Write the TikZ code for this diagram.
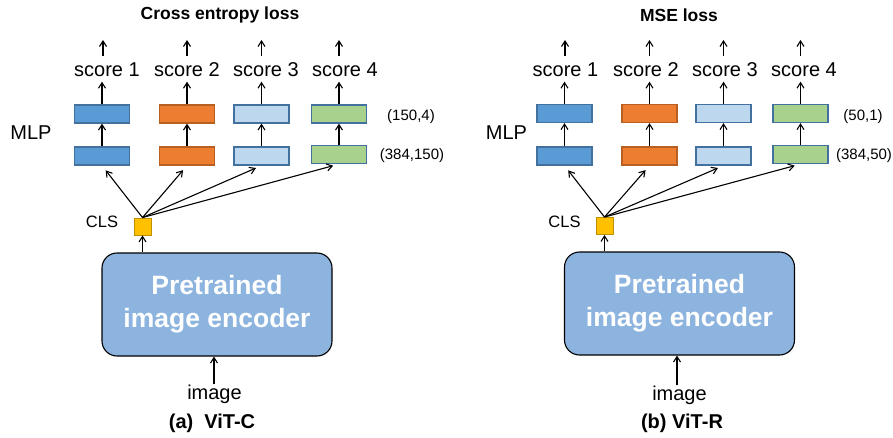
\documentclass[tikz,border=0pt]{standalone}
\usepackage{fontspec}
\setmainfont{Liberation Sans}
\usetikzlibrary{arrows.meta}
\definecolor{bluef}{HTML}{5B9BD5}
\definecolor{blued}{HTML}{41719C}
\definecolor{orangef}{HTML}{ED7D31}
\definecolor{oranged}{HTML}{B85F22}
\definecolor{lbluef}{HTML}{BDD7EE}
\definecolor{greenf}{HTML}{A9D18E}
\definecolor{clsf}{HTML}{FFC000}
\definecolor{clsd}{HTML}{BF9000}
\definecolor{encf}{HTML}{8CB4DF}
\tikzset{
  lay/.style={draw=blued, line width=1.2pt, minimum width=55pt, minimum height=18pt, inner sep=0pt},
  lb/.style={lay, fill=bluef},
  lo/.style={lay, fill=orangef, draw=oranged},
  ll/.style={lay, fill=lbluef},
  lg/.style={lay, fill=greenf},
  sc/.style={font=\fontsize{20}{24}\selectfont, inner sep=0pt, minimum height=25pt, text height=14.3pt, text depth=0pt},
  ttl/.style={font=\fontsize{17.5}{20}\selectfont\bfseries, inner sep=0pt},
  capt/.style={font=\fontsize{20}{24}\selectfont\bfseries, inner sep=0pt},
  dim/.style={font=\fontsize{15}{18}\selectfont, inner sep=0pt},
  big/.style={font=\fontsize{20}{24}\selectfont, inner sep=0pt},
  clsbox/.style={draw=clsd, fill=clsf, line width=0.9pt, minimum size=17pt, inner sep=0pt},
  enc/.style={draw=black, fill=encf, line width=1.1pt, rounded corners=15pt, minimum width=230pt, minimum height=103pt, text=white, align=center, font=\fontsize{26.5}{33}\selectfont\bfseries},
  arr/.style={-{Straight Barb[length=5.5pt,width=7pt]}, line width=1.1pt},
}
\begin{document}
\begin{tikzpicture}[x=1pt, y=-1pt]
\useasboundingbox (0,0) rectangle (893,438);
% ---------------- left panel ----------------
\node[ttl] (t1) at (220,15) {Cross entropy loss};
\node[big] (mlp1) at (31,133) {MLP};
\node[dim] (d1a) at (411,117) {(150,4)};
\node[dim] (d1b) at (412,156) {(384,150)};
\node[lb] (a1t) at (102,114) {};
\node[lo] (a2t) at (187,114) {};
\node[ll] (a3t) at (261.5,114) {};
\node[lg] (a4t) at (339,114) {};
\node[lb] (a1b) at (102,156) {};
\node[lo] (a2b) at (187,156) {};
\node[ll] (a3b) at (261.5,156) {};
\node[lg] (a4b) at (339,154.5) {};
\node[sc] (as1) at (107,69) {score 1};
\node[sc] (as2) at (187,69) {score 2};
\node[sc] (as3) at (266,69) {score 3};
\node[sc] (as4) at (345,69) {score 4};
\coordinate (ao1) at (103,40);
\coordinate (ao2) at (187,40);
\coordinate (ao3) at (261.5,40);
\coordinate (ao4) at (339,40);
\foreach \i in {1,2,3,4}{
  \draw[arr] (a\i b.north) -- (a\i t.south);
  \draw[arr] (a\i t.north) -- (a\i t.north |- as\i.south);
  \draw[arr] (ao\i |- as\i.north) -- (ao\i);
}
\node[clsbox] (cls1) at (142.5,226.5) {};
\node[big, font=\fontsize{16.5}{20}\selectfont] (cl1) at (102,222) {CLS};
\foreach \i in {1,2,3,4}{
  \draw[arr, shorten >=6pt] (cls1.north) -- (a\i b.south);
}
\node[enc] (enc1) at (217,304.5) {Pretrained\\image encoder};
\draw[arr] (cls1.south |- enc1.north) -- (cls1.south);
\node[big] (img1) at (214.5,394) {image};
\draw[arr] ([xshift=-0.5pt]img1.north) -- ([xshift=-0.5pt]img1.north |- enc1.south);
\node[capt] (cap1) at (212,423) {(a)\ \ ViT-C};
% ---------------- right panel ----------------
\node[ttl] (t2) at (679,15) {MSE loss};
\node[big] (mlp2) at (506.5,133) {MLP};
\node[dim] (d2a) at (863,117) {(50,1)};
\node[dim] (d2b) at (864,156) {(384,50)};
\node[lb] (b1t) at (564.5,113.5) {};
\node[lo] (b2t) at (649.5,113.5) {};
\node[ll] (b3t) at (723.5,113.5) {};
\node[lg] (b4t) at (800.5,113.5) {};
\node[lb] (b1b) at (564.5,156) {};
\node[lo] (b2b) at (649.5,156) {};
\node[ll] (b3b) at (723.5,156) {};
\node[lg] (b4b) at (800.5,154.5) {};
\node[sc] (bs1) at (565.5,69) {score 1};
\node[sc] (bs2) at (646,69) {score 2};
\node[sc] (bs3) at (725,69) {score 3};
\node[sc] (bs4) at (804,69) {score 4};
\coordinate (bo1) at (565,40);
\coordinate (bo2) at (649.5,40);
\coordinate (bo3) at (723.5,40);
\coordinate (bo4) at (800.5,40);
\foreach \i in {1,2,3,4}{
  \draw[arr] (b\i b.north) -- (b\i t.south);
  \draw[arr] (b\i t.north) -- (b\i t.north |- bs\i.south);
  \draw[arr] (bo\i |- bs\i.north) -- (bo\i);
}
\node[clsbox] (cls2) at (604.5,226) {};
\node[big, font=\fontsize{16.5}{20}\selectfont] (cl2) at (564.5,222) {CLS};
\foreach \i in {1,2,3,4}{
  \draw[arr, shorten >=6pt] (cls2.north) -- (b\i b.south);
}
\node[enc] (enc2) at (679.5,303.5) {Pretrained\\image encoder};
\draw[arr] (cls2.south |- enc2.north) -- (cls2.south);
\node[big] (img2) at (679.5,395) {image};
\draw[arr] ([xshift=-2.5pt]img2.north) -- ([xshift=-2.5pt]img2.north |- enc2.south);
\node[capt] (cap2) at (682,423) {(b) ViT-R};
\end{tikzpicture}
\end{document}
